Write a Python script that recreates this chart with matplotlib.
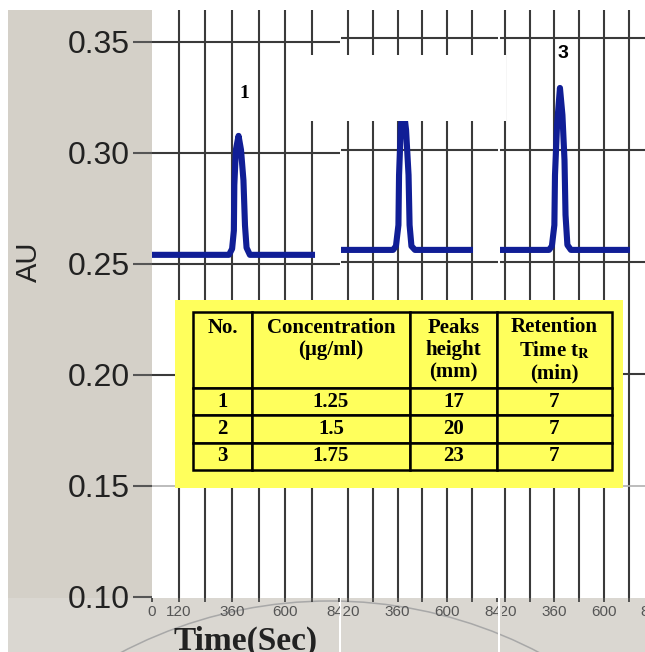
import matplotlib
matplotlib.use("Agg")
import matplotlib.pyplot as plt
from matplotlib.patches import Rectangle, Circle
from matplotlib.transforms import Bbox, TransformedBbox

plt.rcParams['font.family'] = ['Liberation Sans', 'DejaVu Sans']
plt.rcParams['mathtext.fontset'] = 'stix'

# chromatogram traces: time (s) and absorbance (AU)
t1 = [0, 346, 360, 368, 370, 377, 389, 400, 411, 418, 425, 440, 719]
au1 = [0.2541, 0.2541, 0.2568, 0.2650, 0.2855, 0.3014, 0.3077, 0.3014,
       0.2877, 0.2673, 0.2573, 0.2541, 0.2541]
t2 = [0, 338, 352, 364, 367, 376, 389, 401, 413, 418, 427, 444, 710]
au2 = [0.2554, 0.2554, 0.2571, 0.2665, 0.2888, 0.3112, 0.3185, 0.3089,
       0.2888, 0.2665, 0.2571, 0.2554, 0.2554]
t3 = [0, 334, 348, 360, 363, 373, 387, 399, 409, 414, 423, 440, 711]
au3 = [0.2554, 0.2554, 0.2571, 0.2665, 0.2888, 0.3112, 0.3277, 0.3156,
       0.2955, 0.2710, 0.2576, 0.2554, 0.2554]
peak_ids = ["1", "2", "3"]

x_ticks = [0, 120, 240, 360, 480, 600, 720, 840]
x_labels = ["0", "120", "", "360", "", "600", "", "840"]
grid_t = [120, 240, 360, 480, 600, 720]
grid_au = [0.20, 0.25, 0.30, 0.35]
y_ticks = [0.10, 0.15, 0.20, 0.25, 0.30, 0.35]

# table
col_labels = ["No.\n\n", "Concentration\n(µg/ml)\n", "Peaks\nheight\n(mm)",
              "Retention\nTime t$_{\\mathbf{R}}$\n(min)"]
sample_no = ["1", "2", "3"]
conc = ["1.25", "1.5", "1.75"]
peak_h = ["17", "20", "23"]
ret_time = ["7", "7", "7"]

W, H = 645, 652
fig = plt.figure(figsize=(W / 100, H / 100), dpi=100)


def fx(px):
    return px / W


def fy(py):
    return 1 - py / H


gray = '#D4D0C8'
navy = '#101E96'
gridc = '#3a3a3a'
yellow = '#FFFF5C'

# background strips of the screenshot
fig.add_artist(Rectangle((fx(8), 0), fx(152) - fx(8), fy(10), transform=fig.transFigure,
                         facecolor=gray, edgecolor='none', zorder=-2))
fig.add_artist(Rectangle((fx(8), 0), 1 - fx(8), fy(598), transform=fig.transFigure,
                         facecolor='#DAD7D1', edgecolor='none', zorder=-2))
fig.add_artist(Circle((3.30, -3.99), 4.5, transform=fig.dpi_scale_trans, fill=False,
                      edgecolor='#a8a8a8', lw=1.1, zorder=-1))
for sx in [340, 499]:
    fig.add_artist(Rectangle((fx(sx - 1), 0), 2 / W, fy(598), transform=fig.transFigure,
                             facecolor='white', edgecolor='none', zorder=-0.5))

# panels: pixel extent, x limits, y limits, trace, label clip start
# (third panel runs past the right edge, as in the cropped screenshot)
panels = [(152, 340, (0, 845), (0.0995, 0.3644), t1, au1, 140),
          (341, 498, (86, 846), (0.100, 0.3625), t2, au2, 343),
          (500, 660, (97, 871), (0.100, 0.3625), t3, au3, 502)]

axes = []
for i, (x0, x1, xl, yl, t, au, clip0) in enumerate(panels):
    ax = fig.add_axes([fx(x0), fy(598), (x1 - x0) / W, (598 - 10) / H], zorder=i)
    for s in ax.spines.values():
        s.set_visible(False)
    ax.vlines(grid_t, yl[0], yl[1], color=gridc, lw=1.5, zorder=1)
    ax.hlines(grid_au, xl[0], xl[1], color=gridc, lw=1.5, zorder=1)
    ax.hlines([0.15], xl[0], xl[1], color='#b0b0b0', lw=1.2, zorder=1)
    ax.plot(t, au, color=navy, lw=4.4, solid_joinstyle='round', zorder=3)
    ax.set_xticks(x_ticks)
    ax.set_xticklabels(x_labels)
    # limits after the ticks, set_xticks widens the view otherwise
    ax.set_xlim(*xl)
    ax.tick_params(axis='x', length=3, width=1.2, color=gridc, pad=2,
                   labelsize=11, labelcolor='#555555')
    cb = TransformedBbox(Bbox.from_extents(fx(clip0), 0, fx(x1), 1), fig.transFigure)
    for lab in ax.get_xticklabels():
        lab.set_clip_on(True)
        lab.set_clip_box(cb)
    if i == 0:
        ax.set_yticks(y_ticks)
        ax.set_yticklabels([f"{v:.2f}" for v in y_ticks])
        ax.tick_params(axis='y', length=14, width=1.5, color='#555555', pad=2,
                       labelsize=23, labelcolor='#222222')
        ax.set_ylabel('AU', fontsize=21, color='#222222')
        ax.yaxis.set_label_coords((43 - 152) / 188, (598 - 262) / 588)
        ax.set_xlabel('Time(Sec)', fontsize=24, fontfamily='Liberation Serif',
                      fontweight='bold', color='#222222', labelpad=5)
    else:
        ax.set_yticks([])
    ax.set_ylim(*yl)
    axes.append(ax)

axes[0].text(413, 0.327, peak_ids[0], fontsize=14, fontweight='bold',
             fontfamily='Liberation Serif', ha='center', va='center')
axes[1].text(395, 0.337, peak_ids[1], fontsize=14, fontweight='bold',
             fontfamily='Liberation Serif', ha='center', va='center')
axes[2].text(402, 0.3433, peak_ids[2], fontsize=14, fontweight='bold',
             ha='center', va='center')

# white patch covering the top of the second trace
fig.add_artist(Rectangle((fx(300), fy(121)), (506 - 300) / W, (121 - 55) / H,
                         transform=fig.transFigure, facecolor='white',
                         edgecolor='none', zorder=10))

# yellow table box
axt = fig.add_axes([fx(175), fy(488), (623 - 175) / W, (488 - 300) / H], zorder=5)
axt.set_facecolor(yellow)
axt.set_xticks([])
axt.set_yticks([])
for s in axt.spines.values():
    s.set_visible(False)

rows = [list(r) for r in zip(sample_no, conc, peak_h, ret_time)]
cw = [59, 158, 87, 115]
tab = axt.table(cellText=rows, colLabels=col_labels,
                colWidths=[c / sum(cw) for c in cw], cellLoc='center',
                bbox=[18 / 448, 18 / 188, 419 / 448, 158 / 188])
tab.auto_set_font_size(False)
tab.set_fontsize(15)
for (r, c), cell in tab.get_celld().items():
    cell.set_facecolor(yellow)
    cell.set_edgecolor('black')
    cell.set_linewidth(1.8)
    cell.set_height(76 if r == 0 else 27.3)
    cell.get_text().set_fontfamily('Liberation Serif')
    cell.get_text().set_fontweight('bold')
    cell.get_text().set_linespacing(1.15)

fig.savefig("out.png", dpi=100)
